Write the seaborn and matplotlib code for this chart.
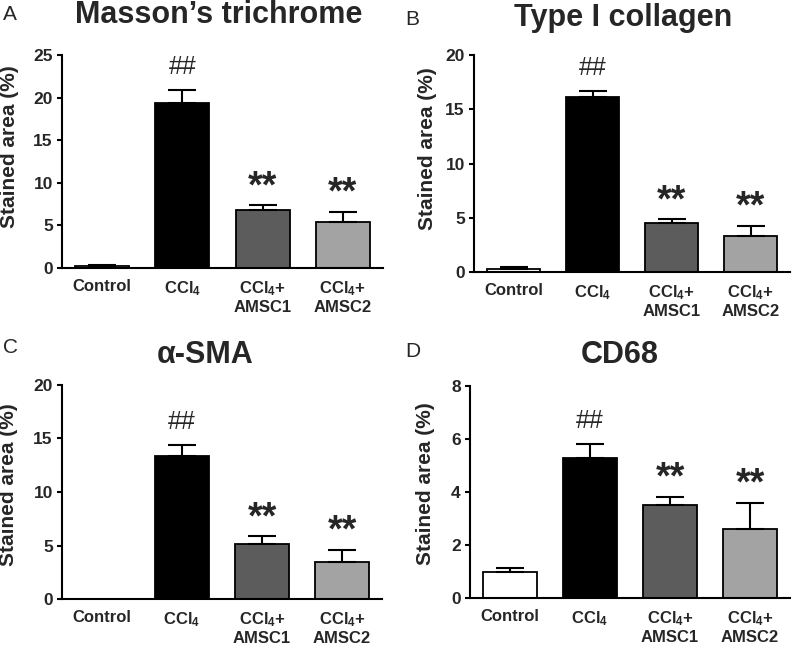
import matplotlib
matplotlib.use("Agg")
import matplotlib.pyplot as plt
import seaborn as sns
import pandas as pd

# ---------------- data ----------------
groups = ["Control", "CCl4", "CCl4+AMSC1", "CCl4+AMSC2"]
tick_labels = ["Control", r"CCl$_\mathbf{4}$",
               "CCl$_\\mathbf{4}$+\nAMSC1", "CCl$_\\mathbf{4}$+\nAMSC2"]
marks = ["", "##", "**", "**"]

masson_mean = [0.25, 19.4, 6.75, 5.4]
masson_err = [0.05, 1.55, 0.6, 1.2]

col1_mean = [0.3, 16.1, 4.5, 3.3]
col1_err = [0.12, 0.6, 0.35, 0.95]

sma_mean = [0.0, 13.35, 5.1, 3.45]
sma_err = [0.0, 1.05, 0.75, 1.15]

cd68_mean = [0.98, 5.3, 3.5, 2.6]
cd68_err = [0.15, 0.5, 0.32, 1.0]

titles = ["Masson\u2019s trichrome", "Type I collagen", "\u03b1-SMA", "CD68"]
letters = ["A", "B", "C", "D"]
ymax = [25, 20, 20, 8]
ystep = [5, 5, 5, 2]

# ---------------- style ----------------
sns.set_style("ticks")
plt.rcParams["font.family"] = ["Liberation Sans", "DejaVu Sans"]
plt.rcParams["mathtext.fontset"] = "custom"
plt.rcParams["mathtext.rm"] = "Liberation Sans"
plt.rcParams["mathtext.bf"] = "Liberation Sans:bold"
plt.rcParams["mathtext.it"] = "Liberation Sans:italic"

bar_colors = ["#ffffff", "#000000", "#5c5c5c", "#a3a3a3"]
palette = dict(zip(groups, bar_colors))

W, H = 800, 645
fig = plt.figure(figsize=(W / 100, H / 100), dpi=100)

# pixel layout: (left, right, top, bottom)
boxes = [(62, 383, 55, 268), (474, 790, 55, 272), (62, 382, 385, 599), (470, 790, 386, 598)]
title_pos = [(219, 23), (623, 26), (205, 363), (620, 363)]
letter_pos = [(3, 20), (405, 25), (3, 353), (405, 357)]
ylabel_pos = [(19, 147), (437, 149), (18, 485), (435, 484)]

means = [masson_mean, col1_mean, sma_mean, cd68_mean]
errs = [masson_err, col1_err, sma_err, cd68_err]

for k in range(4):
    l, r, t, b = boxes[k]
    ax = fig.add_axes([l / W, 1 - b / H, (r - l) / W, (b - t) / H])
    df = pd.DataFrame({"group": groups, "value": means[k]})
    sns.barplot(data=df, x="group", y="value", hue="group", order=groups,
                hue_order=groups, palette=palette, legend=False, width=0.67,
                edgecolor="black", linewidth=1.3, errorbar=None, ax=ax)
    for i, (m, e) in enumerate(zip(means[k], errs[k])):
        if e > 0:
            ax.errorbar(i, m, yerr=[[0], [e]], fmt="none", ecolor="black",
                        elinewidth=1.5, capsize=10, capthick=1.5, zorder=3)
        if marks[i] == "##":
            ax.annotate(marks[i], (i, m + e), xytext=(0, 11.5),
                        textcoords="offset points", ha="center", va="baseline",
                        fontsize=18)
        elif marks[i] == "**":
            ax.annotate(marks[i], (i, m + e), xytext=(0, 6),
                        textcoords="offset points", ha="center", va="baseline",
                        fontsize=27, fontweight="bold")
    ax.set_xlim(-0.5, 3.5)
    ax.set_ylim(0, ymax[k])
    ax.set_yticks(list(range(0, ymax[k] + 1, ystep[k])))
    ax.set_xticks(range(4))
    ax.set_xticklabels(tick_labels)
    ax.set_xlabel("")
    ax.set_ylabel("Stained area (%)", fontsize=15, fontweight="bold")
    ax.yaxis.set_label_coords(ylabel_pos[k][0] / W, 1 - ylabel_pos[k][1] / H,
                              transform=fig.transFigure)
    sns.despine(ax=ax)
    for s in ["left", "bottom"]:
        ax.spines[s].set_linewidth(1.5)
        ax.spines[s].set_color("black")
    ax.tick_params(axis="y", length=3.6, width=1.5, pad=3, labelsize=12.5,
                   color="black")
    ax.tick_params(axis="x", length=0, pad=8, labelsize=12)
    for lbl in ax.get_xticklabels() + ax.get_yticklabels():
        lbl.set_fontweight("bold")
    fig.text(title_pos[k][0] / W, 1 - title_pos[k][1] / H, titles[k],
             ha="center", va="baseline", fontsize=22, fontweight="bold")
    fig.text(letter_pos[k][0] / W, 1 - letter_pos[k][1] / H, letters[k],
             ha="left", va="baseline", fontsize=15)

fig.savefig("out.png", dpi=100)
